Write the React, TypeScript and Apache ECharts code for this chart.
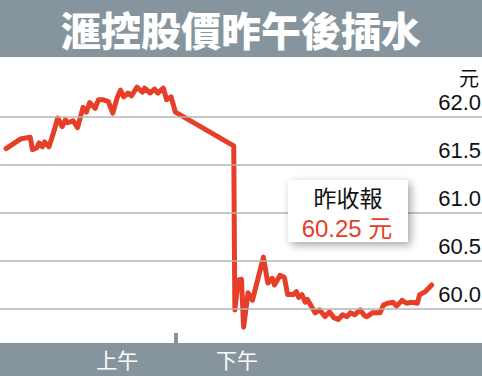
import React, { useEffect, useRef } from "react";
import * as echarts from "echarts";

const title = "滙控股價昨午後插水";
const unitLabel = "元";
const prevCloseLabel = "昨收報";
const prevClose = 60.25;

// minutes after 9:30 (lunch break included on the axis)
const minutes = [
  1, 14, 23, 25, 29, 31, 34, 36, 40, 44, 48, 52, 55, 57, 62, 66, 71, 74, 77, 82,
  85, 89, 94, 98, 102, 105, 108, 112, 115, 120, 125, 127, 132, 136, 139, 144, 147, 151, 155,
  208, 209, 212, 215, 217, 221, 225, 227, 235, 239, 243, 245, 250, 254, 257, 262, 265,
  267, 270, 273, 275, 282, 286, 291, 295, 299, 303, 307, 311, 314, 318, 323, 327, 329,
  334, 341, 344, 348, 353, 356, 361, 365, 370, 375, 377, 382, 388,
];
const prices = [
  61.67, 61.77, 61.79, 61.66, 61.68, 61.73, 61.69, 61.74, 61.69, 61.83, 61.99, 61.9, 61.97, 61.94, 61.96, 61.89, 62.1, 62.05, 62.15, 62.09,
  62.18, 62.18, 62.16, 62.04, 62.2, 62.28, 62.21, 62.25, 62.22, 62.31, 62.26, 62.3, 62.25, 62.29, 62.25, 62.3, 62.18, 62.21, 62.05,
  61.7, 59.99, 60.3, 60.31, 59.81, 60.17, 60.09, 60.18, 60.54, 60.27, 60.32, 60.25, 60.35, 60.33, 60.15, 60.15, 60.18,
  60.12, 60.15, 60.07, 60.1, 59.96, 59.99, 59.92, 59.97, 59.91, 59.89, 59.94, 59.92, 59.96, 59.94, 59.99, 59.93, 59.92,
  59.96, 59.96, 60.04, 60.06, 60.07, 60.03, 60.09, 60.06, 60.07, 60.06, 60.15, 60.18, 60.25,
];
const yTicks = [60.0, 60.5, 61.0, 61.5, 62.0];
const sessionLabels = ["上午", "下午"];
const sessionLabelMinutes = [102, 211];
const lunchTickMinutes = [155];

const GRAY = "#86959d";
const RED = "#e63e28";
const FONT = "'Liberation Sans', Arial, 'Noto Sans CJK TC', sans-serif";

export default function App() {
  const ref = useRef<HTMLDivElement>(null);
  useEffect(() => {
    if (!ref.current) return;
    const chart = echarts.init(ref.current, null, { renderer: "svg" });
    const data = minutes.map((m, i) => [m, prices[i]]);
    chart.setOption({
      animation: false,
      backgroundColor: "#ffffff",
      grid: { left: 0, right: 0, top: 60, bottom: 33 },
      xAxis: {
        type: "value",
        min: -4.5,
        max: 433.7,
        z: 10,
        splitLine: { show: false },
        axisLine: { show: false },
        axisTick: {
          show: true,
          inside: true,
          length: 10,
          customValues: lunchTickMinutes,
          lineStyle: { color: GRAY, width: 4 },
        },
        axisLabel: {
          customValues: sessionLabelMinutes,
          formatter: (v: number) => sessionLabels[sessionLabelMinutes.indexOf(v)] ?? "",
          color: "#ffffff",
          fontSize: 21,
          fontFamily: "'Noto Sans CJK TC', sans-serif",
          margin: 5,
        },
      },
      yAxis: {
        type: "value",
        min: 59.6458,
        max: 62.59375,
        show: false,
        splitLine: { show: false },
      },
      series: [
        {
          type: "line",
          data: [],
          z: 1,
          silent: true,
          markLine: {
            silent: true,
            symbol: ["none", "none"],
            lineStyle: { color: "#b4b4b4", width: 1.5, type: "solid" },
            label: {
              show: true,
              position: "insideEndTop",
              formatter: (p: any) => Number(p.value).toFixed(1),
              color: "#111111",
              fontSize: 22,
              fontFamily: FONT,
              distance: [1, 3],
            },
            data: yTicks.map((v) => ({ yAxis: v })),
          },
        },
        {
          type: "line",
          data,
          z: 3,
          symbol: "none",
          lineStyle: { color: RED, width: 5, join: "round", cap: "round" },
        },
      ],
      graphic: [
        { type: "rect", z: -10, shape: { x: 0, y: 0, width: 482, height: 57 }, style: { fill: GRAY } },
        { type: "rect", z: -10, shape: { x: 0, y: 343, width: 482, height: 33 }, style: { fill: GRAY } },
        {
          type: "text",
          z: 20,
          x: 241,
          y: 29,
          style: {
            text: title,
            fill: "#ffffff",
            font: "900 40px 'Noto Sans CJK TC', sans-serif",
            textAlign: "center",
            textVerticalAlign: "middle",
          },
        },
        {
          type: "text",
          z: 20,
          x: 479,
          y: 77,
          style: {
            text: unitLabel,
            fill: "#111111",
            font: "20px 'Noto Sans CJK TC', sans-serif",
            textAlign: "right",
            textVerticalAlign: "middle",
          },
        },
        {
          type: "group",
          z: 100,
          children: [
            {
              type: "rect",
              z: 100,
              shape: { x: 288, y: 180, width: 120, height: 62 },
              style: { fill: "#ffffff", shadowBlur: 8, shadowOffsetX: 3, shadowOffsetY: 3, shadowColor: "rgba(0,0,0,0.35)" },
            },
            {
              type: "text",
              z: 101,
              x: 348,
              y: 197,
              style: {
                text: prevCloseLabel,
                fill: "#111111",
                font: "23px 'Noto Sans CJK TC', sans-serif",
                textAlign: "center",
                textVerticalAlign: "middle",
              },
            },
            {
              type: "text",
              z: 101,
              x: 347,
              y: 228,
              style: {
                text: `${prevClose.toFixed(2)} ${unitLabel}`,
                fill: RED,
                font: `24px ${FONT}`,
                textAlign: "center",
                textVerticalAlign: "middle",
              },
            },
          ],
        },
      ],
    });
    return () => chart.dispose();
  }, []);
  return <div ref={ref} style={{ width: 482, height: 376, position: "fixed", left: 0, top: 0 }} />;
}
